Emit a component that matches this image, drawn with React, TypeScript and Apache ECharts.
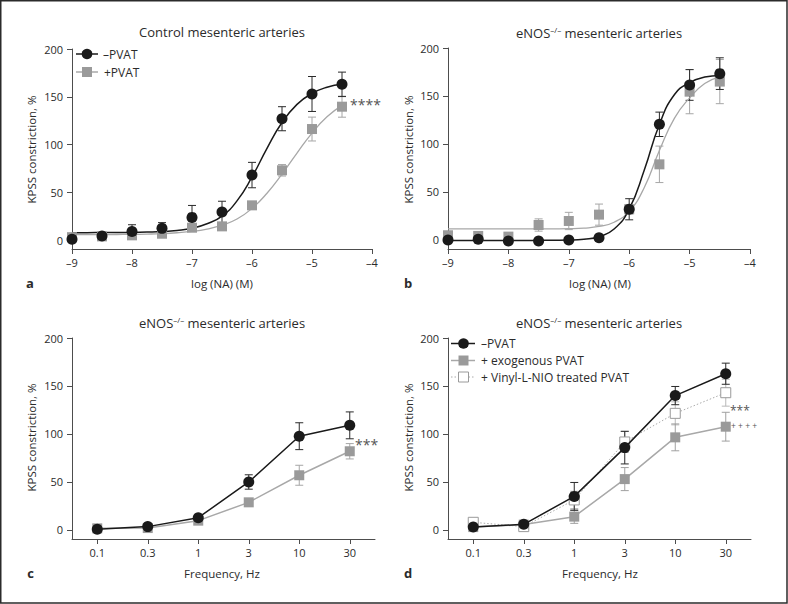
import React, { useEffect, useRef } from "react";
import * as echarts from "echarts";

// ---------- data ----------
const logDoses = [-9, -8.5, -8, -7.5, -7, -6.5, -6, -5.5, -5, -4.5];

// Panel a: control mesenteric arteries
const ctrlMinusMean = [0.7, 4.2, 9, 12.2, 23.7, 29.3, 68, 127, 152.9, 163];
const ctrlMinusSem = [0, 1, 7, 6, 12.5, 11.3, 13.3, 12.6, 18.3, 12.8];
const ctrlPlusMean = [3, 3.8, 4.9, 6.6, 12.9, 14.3, 36.3, 73, 116.2, 139.6];
const ctrlPlusSem = [1, 1, 1.5, 1.5, 3.5, 2.5, 2.5, 6, 12.5, 11];

// Panel b: eNOS-/- mesenteric arteries
const enosMinusMean = [0, 0.7, -1, -1, 0, 2.4, 32, 120.5, 161.5, 173.3];
const enosMinusSem = [0, 0, 0, 0, 0, 1, 11, 12.7, 16, 16.5];
const enosPlusMean = [4.9, 4.2, 3.5, 15.6, 19.8, 26.4, 32, 78.8, 154.5, 165];
const enosPlusSem = [4, 1, 1, 6.4, 9, 11, 5, 19, 23, 23];

// fitted curves
const curveDoses = [-9, -8.75, -8.5, -8.25, -8, -7.75, -7.5, -7.25, -7, -6.75, -6.5, -6.25, -6, -5.75, -5.5, -5.25, -5, -4.75, -4.5];
const ctrlMinusFit = [7.7, 7.7, 7.8, 7.9, 8.0, 8.3, 8.8, 10, 12.3, 17, 25, 41, 66, 96, 123, 142, 153.5, 160, 163];
const ctrlPlusFit = [5.6, 5.6, 5.7, 5.8, 5.9, 6.2, 6.7, 7.6, 9, 11.5, 15.5, 22, 33, 49, 69, 91, 112, 129, 141];
const enosMinusFit = [-0.5, -0.5, -0.5, -0.5, -0.5, -0.5, -0.4, -0.3, -0.1, 0.8, 3.4, 11.4, 32.2, 72.9, 120.4, 151.5, 164, 169.7, 171.3];
const enosPlusFit = [11.5, 11.5, 11.5, 11.5, 11.5, 11.5, 11.5, 11.6, 11.8, 12.4, 14.1, 18.5, 29.9, 54.7, 93.3, 127, 148, 163, 170];

// Panels c & d: frequency responses
const freqLabels = ["0.1", "0.3", "1", "3", "10", "30"];
const cMinusMean = [0.7, 3.5, 12.8, 50, 97.7, 109];
const cMinusSem = [1, 1, 1.5, 7.5, 14, 14];
const cPlusMean = [1.7, 2, 9.7, 28.8, 57, 82];
const cPlusSem = [2.5, 1, 1.5, 2.5, 10.4, 8];

const dMinusMean = [3.1, 5.9, 35, 85.8, 140, 162.8];
const dMinusSem = [1, 1.5, 14.5, 17, 9.5, 11];
const dExoMean = [3, 5.6, 13.9, 53, 96.5, 107.6];
const dExoSem = [1, 1.5, 7, 12, 14, 15];
const dVinylMean = [8, 3.5, 31.3, 91.7, 121.5, 143];
const dVinylSem = [1, 1.5, 9, 11, 12, 14];

const yTicks = [0, 50, 100, 150, 200];
const xLogTicks = [-9, -8, -7, -6, -5, -4];

// ---------- styles ----------
const FONT = '"Open Sans", "Noto Sans", sans-serif';
const BLACK = "#1a1a1a";
const GRAY = "#9a9a9a";
const GRAY_LINE = "#a8a8a8";
const AXIS = "#4d4d4d";
const TXT = "#2b2b2b";

const zip = (xs: number[], ys: number[]) => xs.map((x, i) => [x, ys[i]]);
const errData = (xs: number[], m: number[], s: number[]) => xs.map((x, i) => [x, m[i] - s[i], m[i] + s[i]]);

function errRender(color: string) {
  return (params: any, api: any) => {
    const x = api.value(0);
    const lo = api.value(1);
    const hi = api.value(2);
    if (hi - lo < 0.5) return { type: "group", children: [] };
    const pLo = api.coord([x, lo]);
    const pHi = api.coord([x, hi]);
    const hw = 4;
    const st = { stroke: color, lineWidth: 1 };
    return {
      type: "group",
      children: [
        { type: "line", shape: { x1: pLo[0], y1: pLo[1], x2: pHi[0], y2: pHi[1] }, style: st },
        { type: "line", shape: { x1: pHi[0] - hw, y1: pHi[1], x2: pHi[0] + hw, y2: pHi[1] }, style: st },
        { type: "line", shape: { x1: pLo[0] - hw, y1: pLo[1], x2: pLo[0] + hw, y2: pLo[1] }, style: st },
      ],
    };
  };
}

const errSeries = (idx: number, data: number[][], color: string, z = 2) => ({
  type: "custom",
  xAxisIndex: idx,
  yAxisIndex: idx,
  renderItem: errRender(color),
  data,
  encode: { x: 0, y: [1, 2] },
  z,
  silent: true,
});

const fitLine = (idx: number, data: number[][], color: string, width: number) => ({
  type: "line",
  xAxisIndex: idx,
  yAxisIndex: idx,
  data,
  smooth: 0.5,
  showSymbol: false,
  lineStyle: { color, width },
  z: 2,
  silent: true,
});

const axisLineCommon = { show: true, onZero: false, lineStyle: { color: AXIS, width: 1 } };
const tickCommon = { show: true, length: 5, inside: false, lineStyle: { color: AXIS, width: 1 } };
const labelCommon = { color: TXT, fontSize: 11, fontFamily: FONT };
const fmtNeg = (v: number) => (v < 0 ? "\u2013" + Math.abs(v) : String(v));

const logX = (gi: number) => ({
  gridIndex: gi,
  type: "value",
  min: -9,
  max: -4,
  interval: 1,
  axisLine: axisLineCommon,
  axisTick: { ...tickCommon, customValues: xLogTicks },
  axisLabel: { ...labelCommon, margin: 8, customValues: xLogTicks, formatter: fmtNeg },
  splitLine: { show: false },
});
const catX = (gi: number) => ({
  gridIndex: gi,
  type: "category",
  data: freqLabels,
  boundaryGap: true,
  axisLine: axisLineCommon,
  axisTick: { ...tickCommon, alignWithLabel: true },
  axisLabel: { ...labelCommon, margin: 8 },
  splitLine: { show: false },
});
const yAx = (gi: number) => ({
  gridIndex: gi,
  type: "value",
  min: -9.4,
  max: 200,
  axisLine: axisLineCommon,
  axisTick: { ...tickCommon, customValues: yTicks },
  axisLabel: { ...labelCommon, margin: 9, customValues: yTicks },
  splitLine: { show: false },
});

const text = (x: number, y: number, t: string, extra: any = {}) => ({
  type: "text",
  x,
  y,
  silent: true,
  style: {
    text: t,
    fill: extra.fill || TXT,
    font: `${extra.fontWeight || "normal"} ${extra.fontSize || 12}px ${FONT}`,
    align: extra.align || "center",
    verticalAlign: "middle",
  },
  ...(extra.rotation !== undefined ? { rotation: extra.rotation } : {}),
});

const titleRich = {
  sup: { fontSize: 8, fontFamily: FONT, fill: TXT, verticalAlign: "top", lineHeight: 16 },
};
const enosTitle = (x: number, y: number) => ({
  type: "text",
  x,
  y,
  silent: true,
  style: {
    text: "eNOS{sup|\u2013/\u2013} mesenteric arteries",
    fill: TXT,
    fontSize: 13,
    fontFamily: FONT,
    lineHeight: 16,
    align: "center",
    verticalAlign: "middle",
    rich: titleRich,
  },
});

export default function App() {
  const ref = useRef<HTMLDivElement>(null);
  useEffect(() => {
    if (!ref.current) return;
    const chart = echarts.init(ref.current, undefined, { renderer: "svg" });

    const option: any = {
      animation: false,
      backgroundColor: "#ffffff",
      grid: [
        { left: 72, top: 49, width: 300, height: 200 },
        { left: 448, top: 48, width: 302, height: 201 },
        { left: 72, top: 338, width: 303, height: 201 },
        { left: 448, top: 338, width: 303, height: 201 },
      ],
      xAxis: [logX(0), logX(1), catX(2), catX(3)],
      yAxis: [yAx(0), yAx(1), yAx(2), yAx(3)],
      series: [
        // ---- panel a ----
        errSeries(0, errData(logDoses, ctrlPlusMean, ctrlPlusSem), "#a6a6a6"),
        errSeries(0, errData(logDoses, ctrlMinusMean, ctrlMinusSem), "#2a2a2a"),
        fitLine(0, zip(curveDoses, ctrlPlusFit), GRAY_LINE, 1.3),
        fitLine(0, zip(curveDoses, ctrlMinusFit), BLACK, 1.5),
        { type: "scatter", name: "+PVAT", xAxisIndex: 0, yAxisIndex: 0, data: zip(logDoses, ctrlPlusMean), symbol: "rect", symbolSize: 10, itemStyle: { color: GRAY, opacity: 1 }, z: 3, silent: true },
        { type: "scatter", name: "\u2013PVAT", xAxisIndex: 0, yAxisIndex: 0, data: zip(logDoses, ctrlMinusMean), symbol: "circle", symbolSize: 11, itemStyle: { color: BLACK, opacity: 1 }, z: 4, silent: true },
        // ---- panel b ----
        errSeries(1, errData(logDoses, enosPlusMean, enosPlusSem), "#a6a6a6"),
        errSeries(1, errData(logDoses, enosMinusMean, enosMinusSem), "#2a2a2a"),
        fitLine(1, zip(curveDoses, enosPlusFit), GRAY_LINE, 1.3),
        fitLine(1, zip(curveDoses, enosMinusFit), BLACK, 1.5),
        { type: "scatter", xAxisIndex: 1, yAxisIndex: 1, data: zip(logDoses, enosPlusMean), symbol: "rect", symbolSize: 10, itemStyle: { color: GRAY, opacity: 1 }, z: 3, silent: true },
        { type: "scatter", xAxisIndex: 1, yAxisIndex: 1, data: zip(logDoses, enosMinusMean), symbol: "circle", symbolSize: 11, itemStyle: { color: BLACK, opacity: 1 }, z: 4, silent: true },
        // ---- panel c ----
        errSeries(2, errData([0, 1, 2, 3, 4, 5], cPlusMean, cPlusSem), "#a6a6a6"),
        errSeries(2, errData([0, 1, 2, 3, 4, 5], cMinusMean, cMinusSem), "#2a2a2a"),
        { type: "line", xAxisIndex: 2, yAxisIndex: 2, data: cPlusMean, symbol: "rect", symbolSize: 10, showAllSymbol: true, itemStyle: { color: GRAY, opacity: 1 }, lineStyle: { color: GRAY_LINE, width: 1.5 }, z: 3, silent: true },
        { type: "line", xAxisIndex: 2, yAxisIndex: 2, data: cMinusMean, symbol: "circle", symbolSize: 11, showAllSymbol: true, itemStyle: { color: BLACK, opacity: 1 }, lineStyle: { color: BLACK, width: 1.5 }, z: 4, silent: true },
        // ---- panel d ----
        errSeries(3, errData([0, 1, 2, 3, 4, 5], dVinylMean, dVinylSem), "#b8b8b8"),
        errSeries(3, errData([0, 1, 2, 3, 4, 5], dExoMean, dExoSem), "#a0a0a0"),
        errSeries(3, errData([0, 1, 2, 3, 4, 5], dMinusMean, dMinusSem), "#2a2a2a"),
        { type: "line", xAxisIndex: 3, yAxisIndex: 3, data: dExoMean, symbol: "rect", symbolSize: 10, showAllSymbol: true, itemStyle: { color: GRAY, opacity: 1 }, lineStyle: { color: GRAY_LINE, width: 1.5 }, z: 3, silent: true },
        { type: "line", xAxisIndex: 3, yAxisIndex: 3, data: dVinylMean, symbol: "rect", symbolSize: 10, showAllSymbol: true, itemStyle: { color: "#ffffff", borderColor: "#9a9a9a", borderWidth: 1, opacity: 1 }, lineStyle: { color: "#aaaaaa", width: 1, type: [1.5, 2] }, z: 3, silent: true },
        { type: "line", xAxisIndex: 3, yAxisIndex: 3, data: dMinusMean, symbol: "circle", symbolSize: 11, showAllSymbol: true, itemStyle: { color: BLACK, opacity: 1 }, lineStyle: { color: BLACK, width: 1.5 }, z: 4, silent: true },
      ],
      graphic: [
        // outer frame
        { type: "rect", silent: true, shape: { x: 0.75, y: 0.75, width: 786.25, height: 602.25 }, style: { fill: "none", stroke: "#2b2b2b", lineWidth: 1.5 } },
        // titles
        text(222, 32, "Control mesenteric arteries", { fontSize: 13 }),
        enosTitle(599, 33),
        enosTitle(222, 323),
        enosTitle(599, 323),
        // x axis names
        text(222, 283, "log (NA) (M)", { fontSize: 11.5 }),
        text(600, 283, "log (NA) (M)", { fontSize: 11.5 }),
        text(222, 573, "Frequency, Hz", { fontSize: 11.5 }),
        text(600, 573, "Frequency, Hz", { fontSize: 11.5 }),
        // y axis names
        text(31.5, 149.5, "KPSS constriction, %", { fontSize: 11.5, rotation: Math.PI / 2 }),
        text(408, 149.5, "KPSS constriction, %", { fontSize: 11.5, rotation: Math.PI / 2 }),
        text(31.5, 437.5, "KPSS constriction, %", { fontSize: 11.5, rotation: Math.PI / 2 }),
        text(408, 437.5, "KPSS constriction, %", { fontSize: 11.5, rotation: Math.PI / 2 }),
        // panel letters
        text(30, 283, "a", { fontSize: 13, fontWeight: "bold" }),
        text(408, 283, "b", { fontSize: 13, fontWeight: "bold" }),
        text(30.5, 573, "c", { fontSize: 13, fontWeight: "bold" }),
        text(408, 573, "d", { fontSize: 13, fontWeight: "bold" }),
        // significance marks
        text(350, 104, "****", { fontSize: 14, align: "left", fill: "#555" }),
        text(355, 444, "***", { fontSize: 14, align: "left", fill: "#555" }),
        text(730, 410.5, "***", { fontSize: 12, align: "left", fill: "#555" }),
        text(731, 425.5, "+ + + +", { fontSize: 8.5, align: "left", fill: "#555" }),
        // legend panel a
        { type: "line", silent: true, shape: { x1: 76, y1: 54, x2: 98, y2: 54 }, style: { stroke: BLACK, lineWidth: 1.5 } },
        { type: "circle", silent: true, shape: { cx: 87, cy: 54, r: 5.3 }, style: { fill: BLACK } },
        text(103, 54, "\u2013PVAT", { fontSize: 12, align: "left" }),
        { type: "line", silent: true, shape: { x1: 76, y1: 72, x2: 98, y2: 72 }, style: { stroke: GRAY_LINE, lineWidth: 1.5 } },
        { type: "rect", silent: true, shape: { x: 82, y: 67, width: 10, height: 10 }, style: { fill: GRAY } },
        text(104, 72, "+PVAT", { fontSize: 12, align: "left" }),
        // legend panel d
        { type: "line", silent: true, shape: { x1: 451, y1: 343.5, x2: 475, y2: 343.5 }, style: { stroke: BLACK, lineWidth: 1.5 } },
        { type: "circle", silent: true, shape: { cx: 463.5, cy: 343.5, r: 5.3 }, style: { fill: BLACK } },
        text(481, 343.5, "\u2013PVAT", { fontSize: 12, align: "left" }),
        { type: "line", silent: true, shape: { x1: 451, y1: 360.5, x2: 475, y2: 360.5 }, style: { stroke: GRAY_LINE, lineWidth: 1.5 } },
        { type: "rect", silent: true, shape: { x: 458.5, y: 355.5, width: 10, height: 10 }, style: { fill: GRAY } },
        text(481, 360.5, "+ exogenous PVAT", { fontSize: 12, align: "left" }),
        { type: "line", silent: true, shape: { x1: 451, y1: 377, x2: 475, y2: 377 }, style: { stroke: "#aaaaaa", lineWidth: 1, lineDash: [1.5, 2] } },
        { type: "rect", silent: true, shape: { x: 458.5, y: 372, width: 10, height: 10 }, style: { fill: "#ffffff", stroke: "#9a9a9a", lineWidth: 1 } },
        text(481, 377, "+ Vinyl-L-NIO treated PVAT", { fontSize: 12, align: "left" }),
      ],
    };

    chart.setOption(option);
    return () => chart.dispose();
  }, []);

  return (
    <div
      ref={ref}
      style={{ position: "fixed", left: 0, top: 0, width: 788, height: 604, background: "#fff" }}
    />
  );
}
